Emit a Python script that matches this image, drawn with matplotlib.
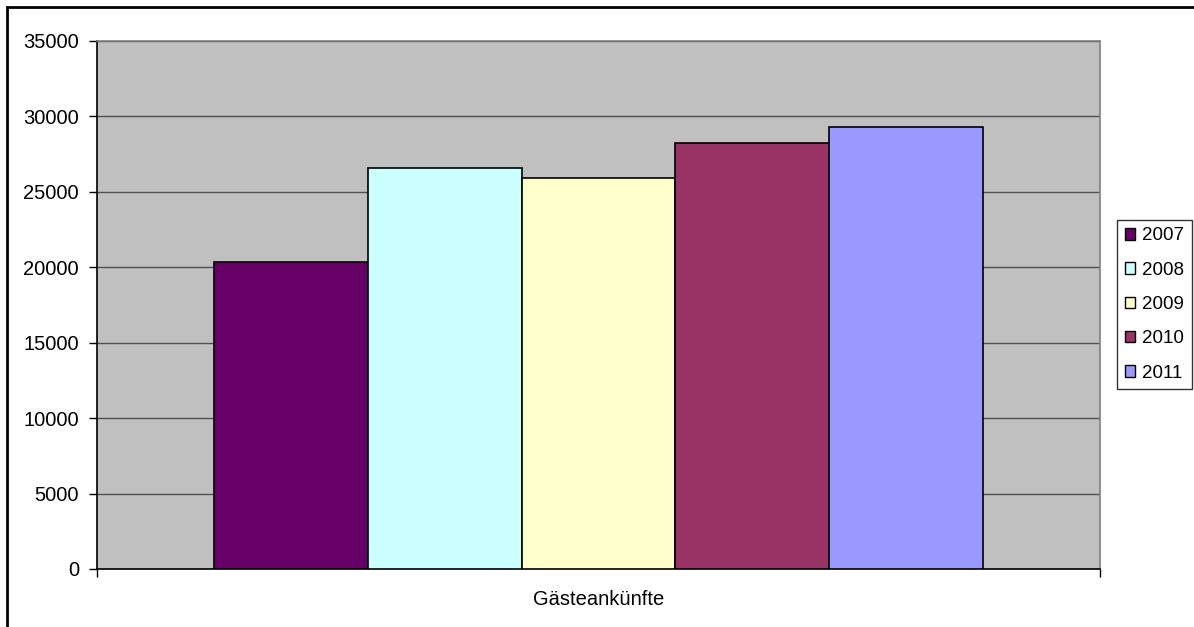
import matplotlib
matplotlib.use("Agg")
import matplotlib.pyplot as plt
from matplotlib.patches import Rectangle, Patch
import numpy as np

plt.rcParams['font.family'] = ['Liberation Sans', 'DejaVu Sans']

# Data
category = "Gästeankünfte"
years = ["2007", "2008", "2009", "2010", "2011"]
values = [20350, 26550, 25900, 28250, 29300]
colors = ["#660066", "#CCFFFF", "#FFFFCC", "#993366", "#9999FF"]

W, H = 1194, 627
fig = plt.figure(figsize=(W / 100, H / 100), dpi=100)
fig.patch.set_facecolor("white")

# Outer chart border
fig.patches.append(Rectangle((7 / W, -0.1), 1.2, 1 - 7 / H + 0.1,
                             transform=fig.transFigure, fill=False,
                             edgecolor="black", linewidth=2, zorder=0))

ax = fig.add_axes([97 / W, 1 - 569 / H, (1100 - 97) / W, (569 - 41) / H])
ax.set_facecolor("#C0C0C0")

bar_w = 0.1535
n = len(values)
offsets = (np.arange(n) - (n - 1) / 2) * bar_w
for off, v, c, y in zip(offsets, values, colors, years):
    ax.bar(off, v, width=bar_w, color=c, edgecolor="black", linewidth=1.2,
           label=y, zorder=3)

ax.set_xlim(-0.5, 0.5)
ax.set_ylim(0, 35000)
ax.set_yticks(np.arange(0, 35001, 5000))
ax.yaxis.grid(True, color="#505050", linewidth=1, zorder=1)
ax.set_axisbelow(True)

ax.set_xticks([-0.5, 0.5])
ax.set_xticklabels(["", ""])
ax.set_xticks([0], minor=True)
ax.set_xticklabels([category], minor=True)
ax.tick_params(axis="x", which="major", direction="out", length=6, width=1, color="black")
ax.tick_params(axis="x", which="minor", length=0, pad=15, labelsize=14.5)
ax.tick_params(axis="y", direction="out", length=6, width=1, color="black",
               pad=7, labelsize=14.5)

for s in ["left", "bottom"]:
    ax.spines[s].set_color("black")
    ax.spines[s].set_linewidth(1.2)
for s in ["top", "right"]:
    ax.spines[s].set_color("#808080")
    ax.spines[s].set_linewidth(1.2)

handles = [Patch(facecolor=c, edgecolor="black", linewidth=1) for c in colors]
leg = fig.legend(handles, years, loc="upper left",
                 bbox_to_anchor=(1117 / W, 1 - 220 / H),
                 frameon=True, fancybox=False, edgecolor="black",
                 fontsize=13.5, handlelength=0.55, handleheight=0.55,
                 handletextpad=0.4, labelspacing=0.92, borderpad=0.4,
                 borderaxespad=0)
leg.get_frame().set_linewidth(1)

fig.savefig("out.png", dpi=100, facecolor="white")
